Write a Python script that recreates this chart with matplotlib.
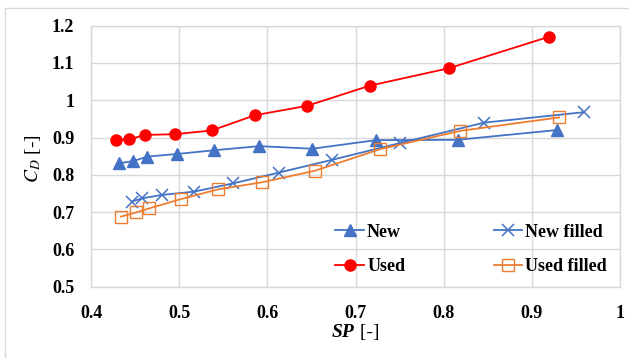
import matplotlib.pyplot as plt
from matplotlib.lines import Line2D

# ── Data ──────────────────────────────────────────────────────────────────────
sp_new = [0.432, 0.448, 0.464, 0.498, 0.540, 0.591, 0.651, 0.723, 0.816, 0.928]
cd_new = [0.831, 0.837, 0.849, 0.856, 0.866, 0.877, 0.870, 0.893, 0.894, 0.920]

sp_used = [0.428, 0.443, 0.461, 0.495, 0.537, 0.586, 0.645, 0.716, 0.806, 0.919]
cd_used = [0.894, 0.895, 0.907, 0.909, 0.919, 0.960, 0.985, 1.039, 1.086, 1.170]

sp_new_filled = [0.446, 0.458, 0.480, 0.517, 0.561, 0.613, 0.673, 0.750, 0.846, 0.959]
cd_new_filled = [0.728, 0.737, 0.746, 0.755, 0.777, 0.806, 0.840, 0.885, 0.940, 0.968]

sp_used_filled = [0.434, 0.451, 0.466, 0.502, 0.544, 0.594, 0.654, 0.728, 0.819, 0.931]
cd_used_filled = [0.688, 0.699, 0.710, 0.735, 0.761, 0.780, 0.811, 0.869, 0.918, 0.954]

x_ticks = [0.4, 0.5, 0.6, 0.7, 0.8, 0.9, 1.0]
x_tick_labels = ['0.4', '0.5', '0.6', '0.7', '0.8', '0.9', '1']
y_ticks = [0.5, 0.6, 0.7, 0.8, 0.9, 1.0, 1.1, 1.2]
y_tick_labels = ['0.5', '0.6', '0.7', '0.8', '0.9', '1', '1.1', '1.2']

# ── Style ─────────────────────────────────────────────────────────────────────
plt.rcParams['font.family'] = ['Liberation Serif', 'DejaVu Serif']
plt.rcParams['mathtext.fontset'] = 'stix'

BLUE = '#4472C4'
RED = '#FF0000'
ORANGE = '#ED7D31'
GRID = '#D9D9D9'
FS = 13

fig = plt.figure(figsize=(6.29, 3.58), dpi=100)
ax = fig.add_axes([0.1447, 0.1992, 0.8410, 0.7290])

ax.plot(sp_new, cd_new, color=BLUE, lw=1.3, marker='^', ms=8,
        mfc=BLUE, mec=BLUE, label='New')
ax.plot(sp_new_filled, cd_new_filled, color=BLUE, lw=1.3, marker='x', ms=8.5,
        mew=1.1, label='New filled')
ax.plot(sp_used, cd_used, color=RED, lw=1.3, marker='o', ms=8,
        mfc=RED, mec=RED, label='Used')
ax.plot(sp_used_filled, cd_used_filled, color=ORANGE, lw=1.3, marker='s',
        ms=8.5, mfc='none', mec=ORANGE, mew=1.0, label='Used filled')

ax.set_xlim(0.4, 1.0)
ax.set_ylim(0.5, 1.2)
ax.set_xticks(x_ticks)
ax.set_xticklabels(x_tick_labels)
ax.set_yticks(y_ticks)
ax.set_yticklabels(y_tick_labels)
ax.tick_params(length=0, labelsize=FS)
ax.tick_params(axis='x', pad=13)
ax.tick_params(axis='y', pad=12)
for lab in ax.get_xticklabels() + ax.get_yticklabels():
    lab.set_fontweight('bold')
ax.grid(True, color=GRID, lw=1.0)
ax.set_axisbelow(True)
for s in ax.spines.values():
    s.set_color(GRID)
    s.set_linewidth(1.0)

# legend: New / New filled on top row, Used / Used filled below
h, l = ax.get_legend_handles_labels()
order = [0, 2, 1, 3]
ax.legend([h[i] for i in order], [l[i] for i in order], ncol=2,
          frameon=False, loc='lower right', bbox_to_anchor=(0.975, 0.045),
          prop={'weight': 'bold', 'size': FS}, handlelength=1.6,
          handletextpad=0.15, columnspacing=4.9, labelspacing=0.95,
          borderpad=0, borderaxespad=0)

# axis titles
ax.set_ylabel(r'$C_D$ [-]', fontsize=14)
ax.yaxis.set_label_coords(-0.09, 0.49)
sp = fig.text(0.546, 0.048, 'SP', fontsize=14, fontweight='bold',
              fontstyle='italic', ha='center', va='bottom')
ax.annotate(' [-]', xy=(1, 0), xycoords=sp, va='bottom', ha='left',
            fontsize=14)

# outer chart frame
fig.add_artist(Line2D([5 / 629, 5 / 629], [0, 1 - 8 / 358],
                      transform=fig.transFigure, color=GRID, lw=1.0))
fig.add_artist(Line2D([5 / 629, 1], [1 - 8 / 358, 1 - 8 / 358],
                      transform=fig.transFigure, color=GRID, lw=1.0))

fig.savefig('out.png', dpi=100)
